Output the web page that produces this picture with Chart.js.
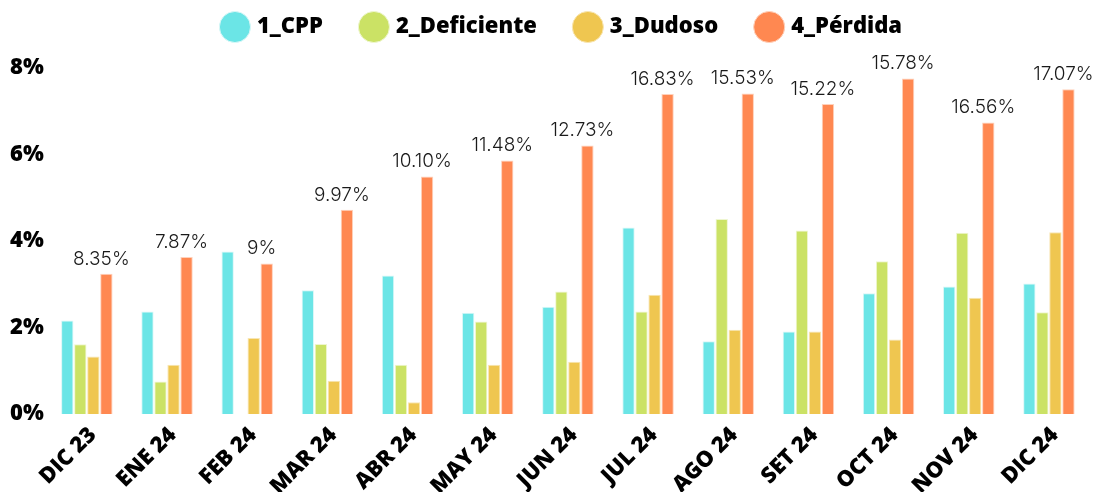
<!DOCTYPE html>
<html>
<head>
<meta charset="utf-8">
<script src="https://cdn.jsdelivr.net/npm/chart.js@4"></script>
<style>
  html, body { margin: 0; padding: 0; background: #ffffff; }
  #wrap { width: 1096px; height: 492px; position: relative; }
</style>
</head>
<body>
<div id="wrap"><canvas id="myChart"></canvas></div>
<script>
// data
const months = ["DIC 23", "ENE 24", "FEB 24", "MAR 24", "ABR 24", "MAY 24", "JUN 24",
                "JUL 24", "AGO 24", "SET 24", "OCT 24", "NOV 24", "DIC 24"];
const cpp        = [2.16, 2.37, 3.76, 2.86, 3.20, 2.34, 2.48, 4.31, 1.68, 1.91, 2.79, 2.95, 3.02];
const deficiente = [1.61, 0.75, 0.00, 1.62, 1.14, 2.14, 2.83, 2.37, 4.51, 4.24, 3.53, 4.19, 2.35];
const dudoso     = [1.33, 1.14, 1.76, 0.77, 0.27, 1.14, 1.21, 2.76, 1.95, 1.91, 1.72, 2.69, 4.20];
const perdida    = [3.24, 3.63, 3.48, 4.72, 5.49, 5.86, 6.21, 7.40, 7.41, 7.17, 7.76, 6.74, 7.51];
const totals     = ["8.35%", "7.87%", "9%", "9.97%", "10.10%", "11.48%", "12.73%",
                    "16.83%", "15.53%", "15.22%", "15.78%", "16.56%", "17.07%"];
const yTicks     = [0, 2, 4, 6, 8];

const colors = ["#6be5e6", "#cbe265", "#efc650", "#ff8851"];
const borders = ["#d9f7f7", "#eef6cf", "#f8e6b3", "#ffd1bb"];

// writes the month total just above the orange bar
const totalLabels = {
    id: "totalLabels",
    afterDatasetsDraw(chart) {
        const ctx = chart.ctx;
        const last = chart.getDatasetMeta(3);
        ctx.save();
        ctx.font = "300 19px Inter";
        ctx.fillStyle = "#1a1a1a";
        ctx.textAlign = "center";
        ctx.textBaseline = "middle";
        last.data.forEach(function (bar, i) {
            ctx.fillText(totals[i], bar.x - 5, bar.y - 15);
        });
        ctx.restore();
    }
};

// the legend padding also sets the gap between items; keep its band short
// and nudge it a bit to the right like the original
const shortLegend = {
    id: "shortLegend",
    beforeInit(chart) {
        const lg = chart.legend;
        const fit = lg.fit;
        lg.fit = function () {
            fit.call(this);
            this.height = 92;
        };
        const draw = lg.draw;
        lg.draw = function () {
            this.ctx.save();
            this.ctx.translate(15, 0);
            draw.call(this);
            this.ctx.restore();
        };
    }
};

new Chart(document.getElementById("myChart"), {
    type: "bar",
    data: {
        labels: months,
        datasets: [
            { label: "1_CPP", data: cpp },
            { label: "2_Deficiente", data: deficiente },
            { label: "3_Dudoso", data: dudoso },
            { label: "4_Pérdida", data: perdida }
        ].map(function (d, i) {
            d.backgroundColor = colors[i];
            d.borderColor = borders[i];
            d.borderWidth = 1;
            d.categoryPercentage = 0.65;
            d.barPercentage = 0.95;
            return d;
        })
    },
    options: {
        responsive: true,
        maintainAspectRatio: false,
        animation: false,
        layout: { padding: { left: 7, right: 7, top: -24, bottom: 0 } },
        plugins: {
            legend: {
                position: "top",
                labels: {
                    usePointStyle: true,
                    pointStyle: "circle",
                    boxWidth: 22,
                    boxHeight: 22,
                    padding: 40,
                    color: "#000000",
                    font: { family: "Open Sans", size: 22, weight: "800" }
                }
            },
            tooltip: { enabled: false }
        },
        scales: {
            x: {
                grid: { display: false },
                border: { display: false },
                afterFit: function (axis) { axis.height = 78; },
                ticks: {
                    color: "#000000",
                    maxRotation: 45,
                    minRotation: 45,
                    padding: 0,
                    labelOffset: 6,
                    font: { family: "Open Sans", size: 22, weight: "800" }
                }
            },
            y: {
                min: 0,
                max: 8,
                grid: { display: false, drawTicks: false },
                border: { display: false },
                afterBuildTicks: function (axis) {
                    axis.ticks = yTicks.map(function (v) { return { value: v }; });
                },
                ticks: {
                    color: "#000000",
                    padding: 3,
                    font: { family: "Open Sans", size: 22, weight: "800" },
                    callback: function (value) { return value + "%"; }
                }
            }
        }
    },
    plugins: [totalLabels, shortLegend]
});
</script>
</body>
</html>
